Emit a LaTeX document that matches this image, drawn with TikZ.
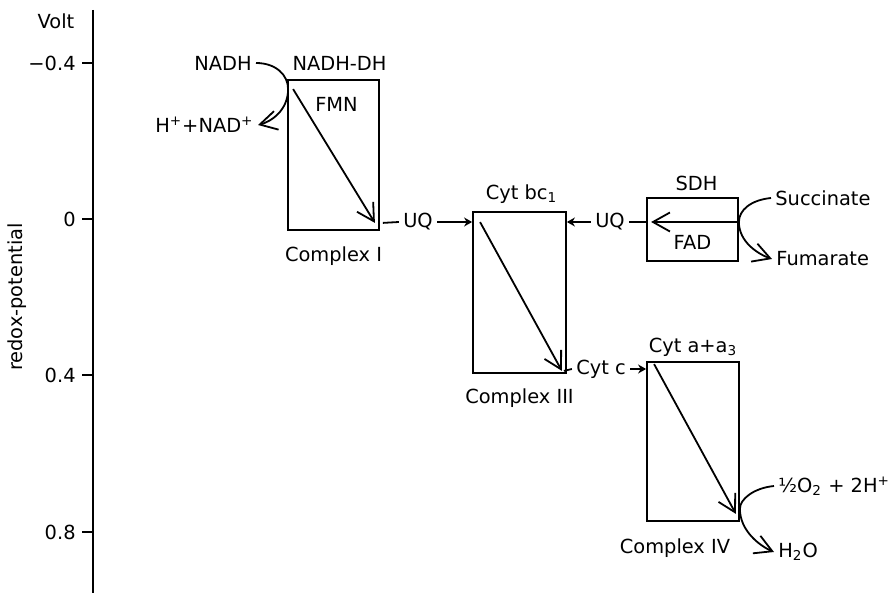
\documentclass[tikz,border=0pt]{standalone}
\usepackage{fontspec}
\setmainfont{DejaVu Sans}
\usetikzlibrary{arrows.meta,positioning}

\begin{document}
\begin{tikzpicture}[
    x=0.5pt, y=-0.5pt,
    font=\fontsize{9.7}{11.6}\selectfont,
    every node/.style={inner sep=2pt},
    flowline/.style={-{Straight Barb[length=8.5pt,width=9.5pt,line width=0.9pt]}, line width=0.9pt},
    feed/.style={-{Stealth[length=4pt,width=4.5pt]}, line width=0.9pt},
    link/.style={line width=0.9pt},
    complex/.style={draw, line width=0.9pt, rectangle, inner sep=0pt}
  ]
    \useasboundingbox (0,0) rectangle (896,593);

    % axis
    \draw[link] (93,10) -- (93,593);
    \foreach \val/\ypos in {−0.4/63, 0/219, 0.4/375, 0.8/532} {
      \draw[link] (82,\ypos) -- (93,\ypos);
      \node[anchor=east] (tick\ypos) at (80,\ypos) {\val};
    }
    \node (volt) at (56,21) {Volt};
    \node[rotate=90] (redox) at (17,297) {redox-potential};

    % complexes
    \node[complex, minimum width=45.5pt, minimum height=75pt] (cI) at (333.5,155) {};
    \node[complex, minimum width=46.5pt, minimum height=80.5pt] (cIII) at (519.5,292.5) {};
    \node[complex, minimum width=45.5pt, minimum height=31.5pt] (sdh) at (692.5,229.5) {};
    \node[complex, minimum width=46pt, minimum height=79.5pt] (cIV) at (693,441.5) {};

    \node[above=2pt of cI, xshift=3pt] (nadhdh) {NADH-DH};
    \node (fmn) at ([shift={(3,25)}]cI.north) {FMN};
    \node[below=5.5pt of cI] (nameI) {Complex I};
    \node[above=1.5pt of cIII, xshift=1pt] (bc) {Cyt bc\textsubscript{1}};
    \node[below=5pt of cIII] (nameIII) {Complex III};
    \node[above=1pt of sdh, xshift=2pt] (sdhname) {SDH};
    \node (fad) at ([shift={(0,13)}]sdh.center) {FAD};
    \node[above=0pt of cIV] (aa) {Cyt a+a\textsubscript{3}};
    \node[below=6pt of cIV, xshift=-9pt] (nameIV) {Complex IV};

    % substrates and carriers
    \node[anchor=east] (nadh) at (256,63) {NADH};
    \node[anchor=east] (nadp) at (258,125) {H\textsuperscript{+}+NAD\textsuperscript{+}};
    \node (uq1) at (418,222) {UQ};
    \node (uq2) at (610,222) {UQ};
    \node[anchor=west] (succ) at (771,198) {Succinate};
    \node[anchor=west] (fum) at (772,259) {Fumarate};
    \node (cytc) at (601,369) {Cyt c};
    \node[anchor=west] (oxy) at (774,486) {½O\textsubscript{2} + 2H\textsuperscript{+}};
    \node[anchor=west] (water) at (774,552) {H\textsubscript{2}O};

    \coordinate (nadhturn) at ([shift={(1,10)}]cI.north west);
    \coordinate (eI) at ([shift={(-5,-8)}]cI.south east);
    \coordinate (eIII) at ([shift={(-5,-3)}]cIII.south east);
    \coordinate (sdhturn) at (uq2 -| sdh.east);
    \coordinate (sdhin) at (uq2 -| sdh.west);
    \coordinate (cIVturn) at ([shift={(0,-13)}]cIV.south east);

    \draw[flowline] ([shift={(6,10)}]cI.north west) -- (eI);
    \draw[flowline] ([shift={(8,11)}]cIII.north west) -- (eIII);
    \draw[flowline] ([shift={(8,3)}]cIV.north west) -- ([shift={(-4,-8)}]cIV.south east);
    \draw[flowline] (sdhturn) -- ([xshift=2.5pt]sdhin);

    \draw[flowline] (nadh.east) .. controls +(20,0) and +(0,-14) .. (nadhturn)
      .. controls +(0,22) and +(12,-3) .. (nadp.east);
    \draw[flowline] (succ.west) .. controls +(-20,2) and +(0,-12) .. (sdhturn)
      .. controls +(0,20) and +(-14,-5) .. (fum.west);
    \draw[flowline] (oxy.west) .. controls +(-20,2) and +(0,-10) .. (cIVturn)
      .. controls +(0,22) and +(-14,-6) .. (water.west);

    \draw[link] ([xshift=4pt]eI) -- (uq1.west);
    \draw[feed] (uq1.east) -- (uq1.east -| cIII.west);
    \draw[feed] (uq2.west) -- (uq2.west -| cIII.east);
    \draw[link] (uq2.east) -- (sdhin);
    \draw[link] ([xshift=1pt]eIII) -- (cytc.west);
    \draw[feed] (cytc.east) -- (cytc.east -| cIV.west);
  \end{tikzpicture}
\end{document}
